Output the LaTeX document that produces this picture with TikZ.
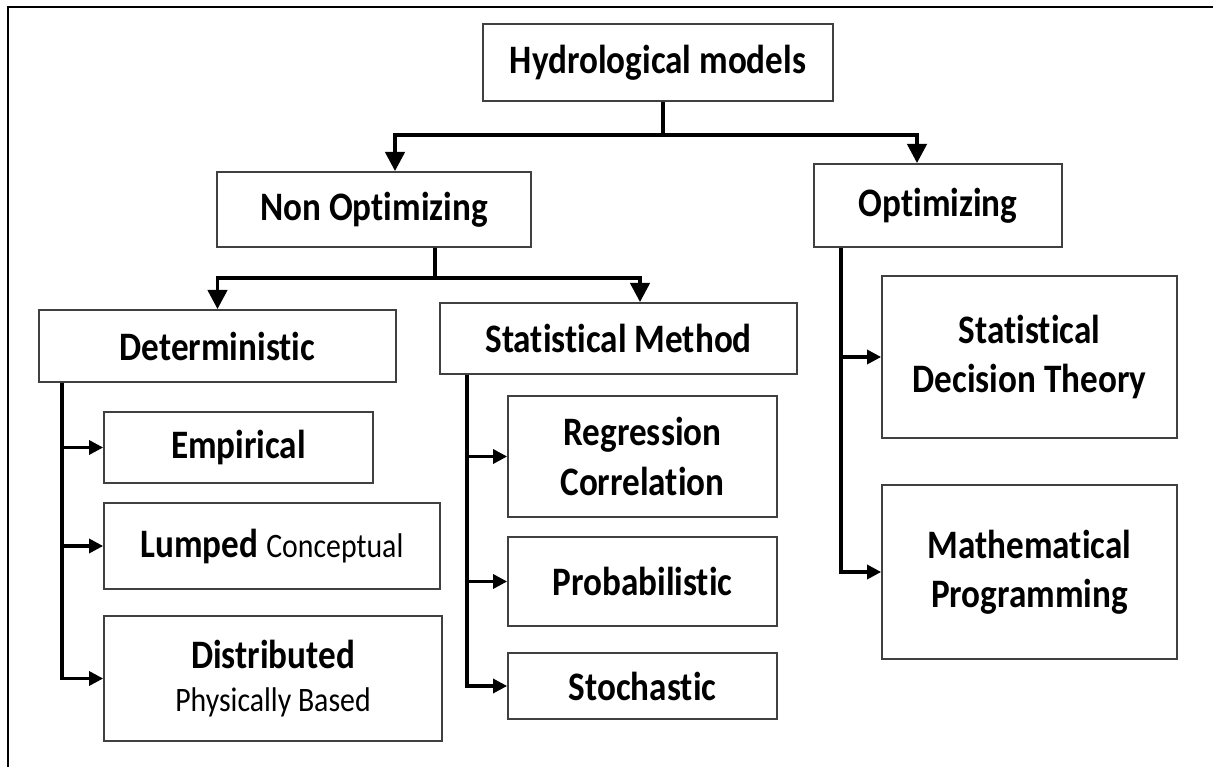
\documentclass[tikz,border=0pt]{standalone}
\usepackage{fontspec}
\setmainfont{Carlito}[FakeStretch=0.87,Ligatures=NoCommon]
\usetikzlibrary{arrows.meta}
\newcommand\smalltxt[1]{{\mdseries\fontsize{19.5}{24}\selectfont #1}}
\begin{document}
\begin{tikzpicture}[
  box/.style={draw=black!75, line width=1pt, align=center, inner sep=0pt,
    font=\bfseries\fontsize{23}{28}\selectfont},
  conn/.style={line width=2.2pt},
  down/.style={conn, -{Triangle[length=11pt,width=11pt]}},
  side/.style={line width=1.8pt, -{Triangle[length=8pt,width=8pt]}}
]
\useasboundingbox (0,0) rectangle (24.26,-15.34);
% frame
\draw[line width=1.6pt] (24.26,-0.14) -- (0.16,-0.14) -- (0.16,-15.34);
% boxes
\node[box, minimum width=7cm, minimum height=1.54cm] (hydro) at (13.16,-1.25) {Hydrological models};
\node[box, minimum width=6.28cm, minimum height=1.5cm] (nonopt) at (7.48,-4.19) {Non Optimizing};
\node[box, minimum width=4.96cm, minimum height=1.66cm] (opt) at (18.76,-4.11) {Optimizing};
\node[box, minimum width=7.14cm, minimum height=1.44cm] (determ) at (4.35,-6.92) {Deterministic};
\node[box, minimum width=7.14cm, minimum height=1.42cm] (statm) at (12.37,-6.77) {Statistical Method};
\node[box, minimum width=5.38cm, minimum height=1.42cm] (empir) at (4.77,-8.95) {Empirical};
\node[box, minimum width=6.72cm, minimum height=1.72cm] (lumped) at (5.44,-10.92) {Lumped \smalltxt{Conceptual}};
\node[box, minimum width=6.76cm, minimum height=2.5cm] (distr) at (5.46,-13.57) {Distributed\\[-3.6pt] \smalltxt{Physically Based}};
\node[box, minimum width=5.38cm, minimum height=2.42cm] (regr) at (12.85,-9.13) {Regression\\Correlation};
\node[box, minimum width=5.38cm, minimum height=1.78cm] (prob) at (12.85,-11.63) {Probabilistic};
\node[box, minimum width=5.38cm, minimum height=1.32cm] (stoch) at (12.85,-13.72) {Stochastic};
\node[box, minimum width=5.9cm, minimum height=3.24cm] (sdt) at (20.59,-7.14) {Statistical\\Decision Theory};
\node[box, minimum width=5.9cm, minimum height=3.48cm] (mprog) at (20.59,-11.44) {Mathematical\\Programming};
% first split
\coordinate (top) at (13.26,-2.7);
\draw[conn] ([xshift=1mm]hydro.south) -- (top);
\draw[down] (top) -| ([xshift=4.2mm]nonopt.north);
\draw[down] (top) -| ([xshift=-4.2mm]opt.north);
% second split
\coordinate (mid) at (8.7,-5.56);
\draw[conn] ([xshift=12.2mm]nonopt.south) -- (mid);
\draw[down] (mid) -| (determ.north);
\draw[down] (mid) -| ([xshift=4.3mm]statm.north);
% deterministic branch
\coordinate (dtrunk) at (1.24,0);
\draw[side] (determ.south -| dtrunk) |- (distr.west);
\draw[side] (dtrunk |- empir.west) -- (empir.west);
\draw[side] (dtrunk |- lumped.west) -- (lumped.west);
% statistical branch
\coordinate (strunk) at (9.34,0);
\draw[side] (statm.south -| strunk) |- (stoch.west);
\draw[side] (strunk |- regr.west) -- (regr.west);
\draw[side] (strunk |- prob.west) -- (prob.west);
% optimizing branch
\coordinate (otrunk) at (16.82,0);
\draw[side] (opt.south -| otrunk) |- (mprog.west);
\draw[side] (otrunk |- sdt.west) -- (sdt.west);
\end{tikzpicture}
\end{document}
